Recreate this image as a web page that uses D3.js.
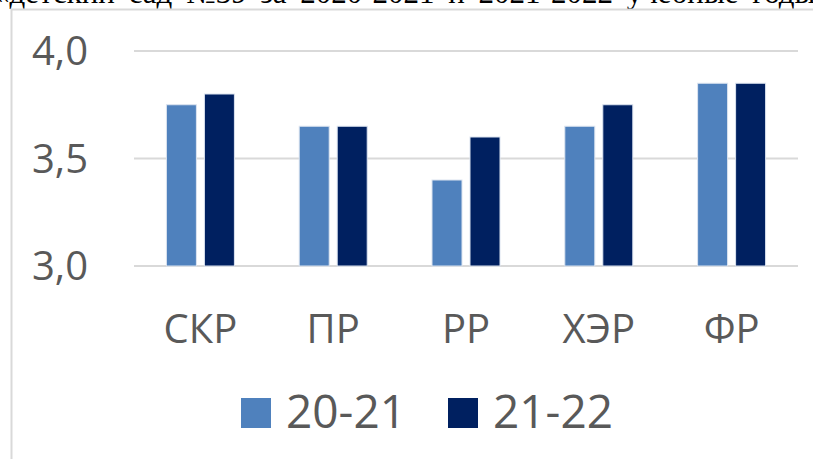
<!DOCTYPE html>
<html>
<head>
<meta charset="utf-8">
<script src="https://cdn.jsdelivr.net/npm/d3@7"></script>
<style>
  html, body { margin: 0; padding: 0; background: #fff; overflow: hidden; }
</style>
</head>
<body>
<script>
// Data
var categories = ["СКР", "ПР", "РР", "ХЭР", "ФР"];
var seriesNames = ["20-21", "21-22"];
var values2021 = [3.75, 3.65, 3.40, 3.65, 3.85];
var values2122 = [3.80, 3.65, 3.60, 3.75, 3.85];
var yTicks = [3.0, 3.5, 4.0];
var colors = ["#4F81BD", "#002060"];

var w = 813, h = 459;
var textColor = "#595959";
var font = "'Open Sans', 'Noto Sans', sans-serif";

var svg = d3.select("body").append("svg")
  .attr("width", w)
  .attr("height", h);

// clipped paragraph line above the chart
svg.append("text")
  .attr("x", -6)
  .attr("y", 3)
  .style("font-family", "'Liberation Serif', 'Times New Roman', serif")
  .style("font-size", "31px")
  .style("word-spacing", "6px")
  .style("fill", "#000")
  .text("«детский сад №39 за 2020-2021 и 2021-2022 учебные годы");

// chart frame
svg.append("path")
  .attr("d", "M11.5," + (h + 2) + "V9.5H" + (w + 2))
  .attr("fill", "none")
  .attr("stroke", "#d9d9d9")
  .attr("stroke-width", 2);

// Scales
var x0 = d3.scaleBand().domain(categories).range([134, 798]);
var groupW = x0.bandwidth() * 68 / 132.8;
var x1 = d3.scaleBand().domain(seriesNames).range([0, groupW]).paddingInner(8 / 38);
var y = d3.scaleLinear().domain([3, 4]).range([266, 51]);

// Gridlines
svg.append("g").selectAll("line")
  .data(yTicks)
  .enter().append("line")
  .attr("x1", 134).attr("x2", 798)
  .attr("y1", function (d) { return y(d); })
  .attr("y2", function (d) { return y(d); })
  .attr("stroke", "#d9d9d9")
  .attr("stroke-width", 2);

// Y labels
var fmt = function (d) { return d3.format(".1f")(d).replace(".", ","); };
svg.append("g").selectAll("text")
  .data(yTicks)
  .enter().append("text")
  .attr("x", 88)
  .attr("y", function (d) { return y(d) + 14; })
  .attr("text-anchor", "end")
  .style("font-family", font)
  .style("font-size", "40px")
  .style("fill", textColor)
  .text(fmt);

// Bars
var rows = categories.map(function (c, i) {
  return { cat: c, vals: [values2021[i], values2122[i]] };
});

var group = svg.append("g").selectAll("g")
  .data(rows)
  .enter().append("g")
  .attr("transform", function (d) {
    return "translate(" + (x0(d.cat) + (x0.bandwidth() - groupW) / 2) + ",0)";
  });

group.selectAll("rect")
  .data(function (d) { return d.vals.map(function (v, i) { return { s: seriesNames[i], v: v, i: i }; }); })
  .enter().append("rect")
  .attr("x", function (d) { return x1(d.s); })
  .attr("width", x1.bandwidth())
  .attr("y", function (d) { return y(d.v); })
  .attr("height", function (d) { return y(3) - y(d.v); })
  .attr("fill", function (d) { return colors[d.i]; })
  .attr("stroke", "#dce4f0")
  .attr("stroke-width", 1);

// Category labels
svg.append("g").selectAll("text")
  .data(categories)
  .enter().append("text")
  .attr("x", function (d) { return x0(d) + x0.bandwidth() / 2; })
  .attr("y", 343)
  .attr("text-anchor", "middle")
  .style("font-family", font)
  .style("font-size", "40px")
  .style("fill", textColor)
  .text(function (d) { return d; });

// Legend
var legendX = [241, 448];
var legend = svg.append("g").selectAll("g")
  .data(seriesNames)
  .enter().append("g")
  .attr("transform", function (d, i) { return "translate(" + legendX[i] + ",0)"; });

legend.append("rect")
  .attr("x", 0).attr("y", 398)
  .attr("width", 30).attr("height", 30)
  .attr("fill", function (d, i) { return colors[i]; });

legend.append("text")
  .attr("x", 45)
  .attr("y", 428)
  .style("font-family", font)
  .style("font-size", "46px")
  .style("fill", textColor)
  .text(function (d) { return d; });
</script>
</body>
</html>
